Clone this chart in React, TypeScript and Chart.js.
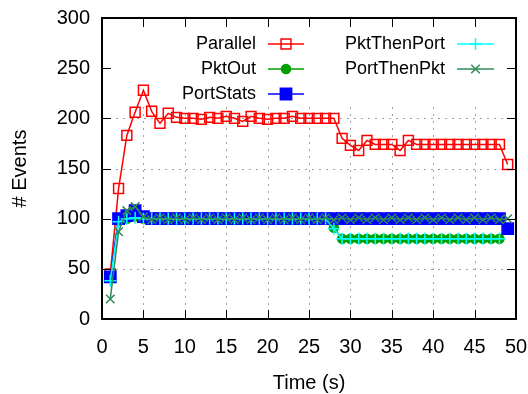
import React, { useEffect, useRef } from 'react';
import { Chart, registerables } from 'chart.js';

Chart.register(...registerables);

// ---- data ----
const times = [1, 2, 3, 4, 5, 6, 7, 8, 9, 10, 11, 12, 13, 14, 15, 16, 17, 18, 19, 20, 21, 22, 23, 24, 25, 26, 27, 28, 29, 30, 31, 32, 33, 34, 35, 36, 37, 38, 39, 40, 41, 42, 43, 44, 45, 46, 47, 48, 49];
const parallel = [45, 130, 183, 206, 228, 207, 195, 205, 201, 200, 200, 199, 201, 200, 202, 200, 197, 202, 200, 199, 200, 200, 202, 200, 200, 200, 200, 200, 180, 173, 168, 178, 174, 174, 174, 168, 178, 174, 174, 174, 174, 174, 174, 174, 174, 174, 174, 174, 154];
const pktOut = [42, 98, 100, 102, 100, 100, 100, 100, 100, 100, 100, 100, 100, 100, 100, 100, 100, 100, 100, 100, 100, 100, 100, 100, 100, 100, 100, 91, 80, 80, 80, 80, 80, 80, 80, 80, 80, 80, 80, 80, 80, 80, 80, 80, 80, 80, 80, 80];
const portStats = [42, 100, 103, 108, 102, 100, 100, 100, 100, 100, 100, 100, 100, 100, 100, 100, 100, 100, 100, 100, 100, 100, 100, 100, 100, 100, 100, 100, 100, 100, 100, 100, 100, 100, 100, 100, 100, 100, 100, 100, 100, 100, 100, 100, 100, 100, 100, 100, 90];
const pktThenPort = [38, 97, 100, 101, 100, 100, 100, 100, 100, 100, 100, 100, 100, 100, 100, 100, 100, 100, 100, 100, 100, 100, 100, 100, 100, 100, 100, 90, 80, 80, 80, 80, 80, 80, 80, 80, 80, 80, 80, 80, 80, 80, 80, 80, 80, 80, 80, 80];
const portThenPkt = [20, 87, 108, 112, 102, 99, 101, 99, 101, 99, 101, 99, 101, 99, 101, 99, 101, 99, 101, 99, 101, 99, 101, 99, 101, 99, 101, 99, 101, 99, 101, 99, 101, 99, 101, 99, 101, 99, 101, 99, 101, 99, 101, 99, 101, 99, 101, 99, 100];

const xTicks = [0, 5, 10, 15, 20, 25, 30, 35, 40, 45, 50];
const yTicks = [0, 50, 100, 150, 200, 250, 300];

const FONT = '"Liberation Sans", Arial, Helvetica, sans-serif';

const series = [
  { label: 'Parallel', values: parallel, color: '#ff0000', style: 'rect', radius: 7, fill: false },
  { label: 'PktOut', values: pktOut, color: '#00a000', style: 'circle', radius: 4.5, fill: true },
  { label: 'PortStats', values: portStats, color: '#0000ff', style: 'rect', radius: 8, fill: true },
  { label: 'PktThenPort', values: pktThenPort, color: '#00ffff', style: 'cross', radius: 6, fill: false },
  { label: 'PortThenPkt', values: portThenPkt, color: '#2e8b57', style: 'crossRot', radius: 6, fill: false },
];

const KEY_HEIGHT = 87;

function drawMarker(ctx: CanvasRenderingContext2D, style: string, x: number, y: number, r: number, color: string, fill: boolean) {
  ctx.save();
  ctx.strokeStyle = color;
  ctx.fillStyle = color;
  ctx.lineWidth = 1.5;
  ctx.beginPath();
  if (style === 'rect') {
    const s = Math.SQRT1_2 * r;
    ctx.rect(x - s, y - s, 2 * s, 2 * s);
    if (fill) ctx.fill();
    ctx.stroke();
  } else if (style === 'circle') {
    ctx.arc(x, y, r, 0, Math.PI * 2);
    ctx.fill();
    ctx.stroke();
  } else if (style === 'cross') {
    ctx.moveTo(x - r, y); ctx.lineTo(x + r, y);
    ctx.moveTo(x, y - r); ctx.lineTo(x, y + r);
    ctx.stroke();
  } else {
    const d = r * Math.SQRT1_2;
    ctx.moveTo(x - d, y - d); ctx.lineTo(x + d, y + d);
    ctx.moveTo(x + d, y - d); ctx.lineTo(x - d, y + d);
    ctx.stroke();
  }
  ctx.restore();
}

const gnuplotFrame = {
  id: 'gnuplotFrame',
  beforeDatasetsDraw(chart: any) {
    const { ctx, chartArea: a, scales } = chart;
    const cut = a.top + KEY_HEIGHT;
    ctx.save();
    ctx.strokeStyle = '#a0a0a0';
    ctx.lineWidth = 1;
    ctx.setLineDash([2, 5]);
    for (const v of xTicks.slice(1, -1)) {
      const px = Math.round(scales.x.getPixelForValue(v)) + 0.5;
      ctx.beginPath();
      ctx.moveTo(px, a.bottom);
      ctx.lineTo(px, cut);
      ctx.stroke();
    }
    for (const v of yTicks.slice(1, -1)) {
      const py = Math.round(scales.y.getPixelForValue(v)) + 0.5;
      if (py < cut) continue;
      ctx.beginPath();
      ctx.moveTo(a.left, py);
      ctx.lineTo(a.right, py);
      ctx.stroke();
    }
    ctx.restore();
  },
  afterDatasetsDraw(chart: any) {
    const { ctx, chartArea: a, scales } = chart;
    ctx.save();
    ctx.setLineDash([]);
    ctx.strokeStyle = '#000';
    ctx.lineWidth = 1;
    const tl = 9;
    for (const v of xTicks.slice(1, -1)) {
      const px = Math.round(scales.x.getPixelForValue(v)) + 0.5;
      ctx.beginPath();
      ctx.moveTo(px, a.bottom); ctx.lineTo(px, a.bottom - tl);
      ctx.moveTo(px, a.top); ctx.lineTo(px, a.top + tl);
      ctx.stroke();
    }
    for (const v of yTicks.slice(1, -1)) {
      const py = Math.round(scales.y.getPixelForValue(v)) + 0.5;
      ctx.beginPath();
      ctx.moveTo(a.left, py); ctx.lineTo(a.left + tl, py);
      ctx.moveTo(a.right, py); ctx.lineTo(a.right - tl, py);
      ctx.stroke();
    }
    ctx.lineWidth = 2;
    ctx.strokeRect(Math.round(a.left), Math.round(a.top), Math.round(a.right - a.left), Math.round(a.bottom - a.top));

    // key
    ctx.font = `18px ${FONT}`;
    ctx.textAlign = 'right';
    ctx.textBaseline = 'middle';
    ctx.fillStyle = '#000';
    const cols = [
      { textRight: a.left + 154, s0: a.left + 166, s1: a.left + 202 },
      { textRight: a.left + 343, s0: a.left + 355, s1: a.left + 392 },
    ];
    series.forEach((s, i) => {
      const col = cols[i < 3 ? 0 : 1];
      const row = i < 3 ? i : i - 3;
      const y = a.top + 26 + row * 25;
      ctx.fillStyle = '#000';
      ctx.fillText(s.label, col.textRight, y);
      ctx.strokeStyle = s.color;
      ctx.lineWidth = 1.5;
      ctx.beginPath();
      ctx.moveTo(col.s0, y); ctx.lineTo(col.s1, y);
      ctx.stroke();
      drawMarker(ctx, s.style, (col.s0 + col.s1) / 2, y, s.radius, s.color, s.fill);
    });
    ctx.restore();
  },
};

export default function App() {
  const ref = useRef<HTMLCanvasElement | null>(null);
  useEffect(() => {
    if (!ref.current) return;
    const datasets = series.map((s, i) => ({
      label: s.label,
      data: s.values.map((v, j) => ({ x: times[j], y: v })),
      borderColor: s.color,
      backgroundColor: s.fill ? s.color : 'rgba(0,0,0,0)',
      borderWidth: 1.5,
      pointStyle: s.style,
      pointRadius: s.radius,
      pointBorderWidth: 1.5,
      pointBorderColor: s.color,
      pointBackgroundColor: s.fill ? s.color : 'rgba(0,0,0,0)',
      tension: 0,
      order: series.length - i,
    }));
    const chart = new Chart(ref.current, {
      type: 'line',
      data: { datasets },
      options: {
        animation: false,
        responsive: false,
        devicePixelRatio: 1,
        layout: { padding: { top: 18, right: 12, left: 0, bottom: 0 } },
        plugins: { legend: { display: false }, tooltip: { enabled: false } },
        scales: {
          x: {
            type: 'linear',
            min: 0,
            max: 50,
            afterBuildTicks: (s: any) => { s.ticks = xTicks.map((v) => ({ value: v })); },
            afterFit: (s: any) => { s.height = 75; s.paddingLeft = 0; s.paddingRight = 0; },
            ticks: { padding: 16, color: '#000', font: { family: FONT, size: 20 } },
            grid: { display: false, drawTicks: false },
            border: { display: false },
            title: { display: true, text: 'Time (s)', color: '#000', font: { family: FONT, size: 20, lineHeight: 1.05 }, padding: 0 },
          },
          y: {
            type: 'linear',
            min: 0,
            max: 300,
            afterBuildTicks: (s: any) => { s.ticks = yTicks.map((v) => ({ value: v })); },
            afterFit: (s: any) => { s.width = 102; s.paddingTop = 0; s.paddingBottom = 0; },
            ticks: { padding: 12, color: '#000', font: { family: FONT, size: 20 } },
            grid: { display: false, drawTicks: false },
            border: { display: false },
            title: { display: true, text: '# Events', color: '#000', font: { family: FONT, size: 20 }, padding: 8 },
          },
        },
      },
      plugins: [gnuplotFrame],
    });
    return () => chart.destroy();
  }, []);
  return (
    <div style={{ position: 'fixed', left: 0, top: 0, width: 528, height: 394, background: '#fff' }}>
      <canvas ref={ref} width={528} height={394} />
    </div>
  );
}
